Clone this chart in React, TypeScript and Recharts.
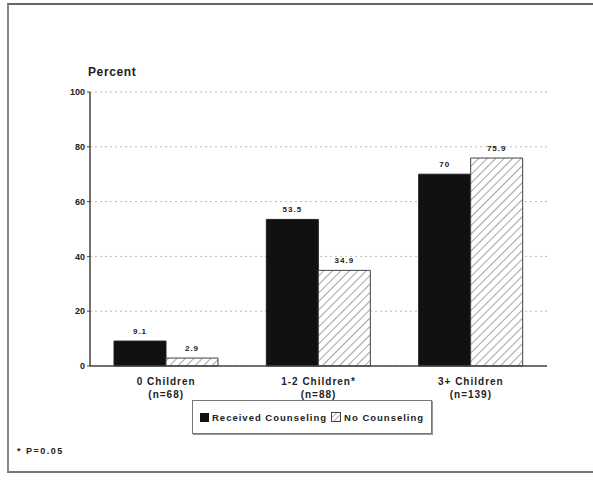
import React from 'react';
import { BarChart, Bar, XAxis, YAxis, CartesianGrid, LabelList } from 'recharts';

const categories = ['0 Children', '1-2 Children*', '3+ Children'];
const sampleSizes = ['(n=68)', '(n=88)', '(n=139)'];
const received = [9.1, 53.5, 70];
const noCounseling = [2.9, 34.9, 75.9];
const yTicks = [0, 20, 40, 60, 80, 100];

const data = categories.map((c, i) => ({
  name: c,
  n: sampleSizes[i],
  received: received[i],
  none: noCounseling[i],
}));

const FONT = '"Liberation Sans", Arial, sans-serif';

const XTick = (props: any) => {
  const { x, y, payload, index } = props;
  return (
    <g transform={`translate(${x},${y})`}>
      <text x={0} y={11} textAnchor="middle" fontSize={10} fontWeight="bold" fontFamily={FONT} fill="#222" letterSpacing={1}>
        {payload.value}
      </text>
      <text x={0} y={24} textAnchor="middle" fontSize={10} fontWeight="bold" fontFamily={FONT} fill="#222" letterSpacing={1}>
        {sampleSizes[index]}
      </text>
    </g>
  );
};

const labelStyle = { fontSize: 8, fontWeight: 'bold', fontFamily: FONT, fill: '#222', letterSpacing: 1 } as any;

export default function App() {
  return (
    <div style={{ position: 'fixed', left: 0, top: 0, width: 593, height: 482, background: '#fff', fontFamily: FONT }}>
      <div style={{ position: 'absolute', left: 7, top: 3, width: 586, height: 466, borderTop: '2px solid #666', borderLeft: '2px solid #888', borderBottom: '2px solid #777' }} />
      <div style={{ position: 'absolute', left: 88, top: 65, fontSize: 12, fontWeight: 'bold', color: '#222', letterSpacing: 0.6 }}>Percent</div>
      <BarChart
        width={593}
        height={482}
        data={data}
        margin={{ top: 92, right: 46, bottom: 0, left: 0 }}
        barGap={0}
        barSize={52}
        style={{ position: 'absolute', left: 0, top: 0 }}
      >
        <defs>
          <pattern id="hatch" patternUnits="userSpaceOnUse" width="6" height="6" patternTransform="rotate(45)">
            <rect width="6" height="6" fill="#fff" />
            <line x1="0" y1="0" x2="0" y2="6" stroke="#666" strokeWidth="1.2" />
          </pattern>
        </defs>
        <CartesianGrid vertical={false} strokeDasharray="2 3" stroke="#bbb" />
        <XAxis
          dataKey="name"
          height={116}
          tick={<XTick />}
          tickLine={false}
          axisLine={{ stroke: '#444', strokeWidth: 1.5 }}
          interval={0}
        />
        <YAxis
          width={90}
          domain={[0, 100]}
          ticks={yTicks}
          tickSize={3}
          tickLine={{ stroke: '#444' }}
          axisLine={{ stroke: '#444', strokeWidth: 1.5 }}
          tick={{ fontSize: 9, fontWeight: 'bold', fontFamily: FONT, fill: '#222' }}
        />
        <Bar dataKey="received" fill="#111" stroke="#222" isAnimationActive={false}>
          <LabelList dataKey="received" position="top" offset={7} style={labelStyle} />
        </Bar>
        <Bar dataKey="none" fill="url(#hatch)" stroke="#444" isAnimationActive={false}>
          <LabelList dataKey="none" position="top" offset={7} style={labelStyle} />
        </Bar>
      </BarChart>
      <div style={{ position: 'absolute', left: 192, top: 400, width: 240, height: 34, border: '1px solid #777', boxShadow: '1px 1px 0 #999', display: 'flex', alignItems: 'center', paddingLeft: 7, boxSizing: 'border-box', fontSize: 9.5, fontWeight: 'bold', color: '#222', letterSpacing: 1 }}>
        <span style={{ display: 'inline-block', width: 9, height: 9, background: '#111', marginRight: 3 }} />
        <span style={{ marginRight: 4 }}>Received Counseling</span>
        <svg width={10} height={10} style={{ marginRight: 3 }}>
          <defs>
            <pattern id="hatchL" patternUnits="userSpaceOnUse" width="4" height="4" patternTransform="rotate(45)">
              <rect width="4" height="4" fill="#fff" />
              <line x1="0" y1="0" x2="0" y2="4" stroke="#666" strokeWidth="1" />
            </pattern>
          </defs>
          <rect x={0.5} y={0.5} width={9} height={9} fill="url(#hatchL)" stroke="#444" />
        </svg>
        <span>No Counseling</span>
      </div>
      <div style={{ position: 'absolute', left: 17, top: 446, fontSize: 9, fontWeight: 'bold', color: '#222', letterSpacing: 1.5 }}>* P=0.05</div>
    </div>
  );
}
